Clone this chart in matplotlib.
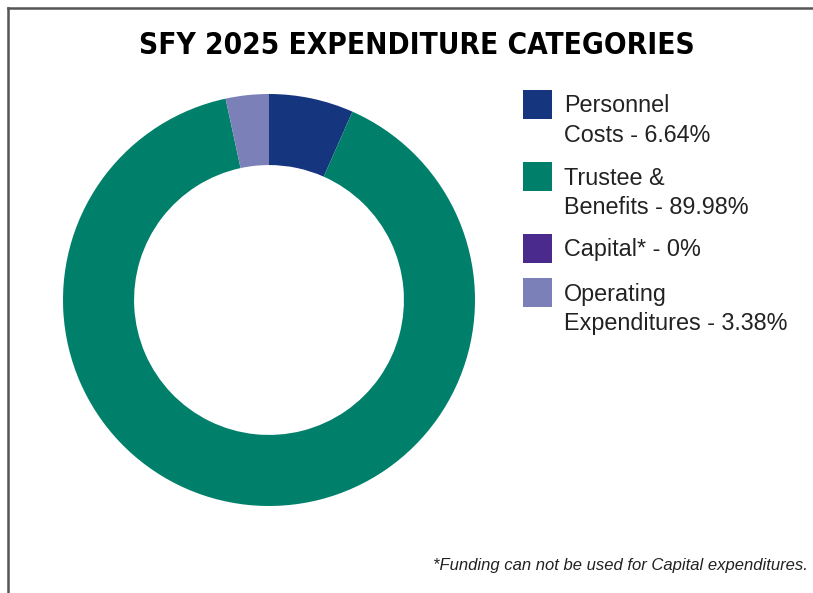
import matplotlib.pyplot as plt
from matplotlib.patches import Rectangle
from matplotlib.lines import Line2D

categories = ["Personnel\nCosts", "Trustee &\nBenefits", "Capital*", "Operating\nExpenditures"]
shares = [6.64, 89.98, 0, 3.38]
colors = ["#15357f", "#00806a", "#4a2a8c", "#7b80b8"]
title = "SFY 2025 EXPENDITURE CATEGORIES"
footnote = "*Funding can not be used for Capital expenditures."

W, H = 813, 593
fig = plt.figure(figsize=(W / 100, H / 100), dpi=100)

# donut: centre (269, 300) px, radius 206 px
cx, cy, r = 269, 300, 206
ax = fig.add_axes([(cx - r) / W, (H - cy - r) / H, 2 * r / W, 2 * r / H])
ax.pie(shares, colors=colors, startangle=90, counterclock=False, radius=1,
       wedgeprops=dict(width=0.345, linewidth=0))
ax.set_xlim(-1, 1)
ax.set_ylim(-1, 1)
ax.set_aspect("equal")
ax.axis("off")

fig.text(417 / W, 1 - 45 / H, title, ha="center", va="center",
         family="DejaVu Sans", stretch="condensed", weight="bold", fontsize=21.3)

# legend, drawn by hand so the square sits at the top of each label
sq = 29
tops = [90, 162, 234, 278]
for name, val, col, top in zip(categories, shares, colors, tops):
    fig.patches.append(Rectangle((523 / W, 1 - (top + sq) / H), sq / W, sq / H,
                                 transform=fig.transFigure, facecolor=col,
                                 edgecolor="none"))
    fig.text(564 / W, 1 - (top + 4.5) / H, f"{name} - {val:g}%", ha="left", va="top",
             family=["Liberation Sans", "DejaVu Sans"], fontsize=16.8,
             color="#222222", linespacing=1.37)

fig.text(808 / W, 1 - 570 / H, footnote, ha="right", va="baseline",
         family=["Liberation Sans", "DejaVu Sans"], style="italic", fontsize=12,
         color="#222222")

# frame lines along top and left
fig.lines.append(Line2D([8 / W, 1], [1 - 8 / H, 1 - 8 / H], transform=fig.transFigure,
                        color="#555555", linewidth=1.8))
fig.lines.append(Line2D([8 / W, 8 / W], [0, 1 - 8 / H], transform=fig.transFigure,
                        color="#555555", linewidth=1.8))

fig.savefig("out.png", dpi=100, facecolor="white")
